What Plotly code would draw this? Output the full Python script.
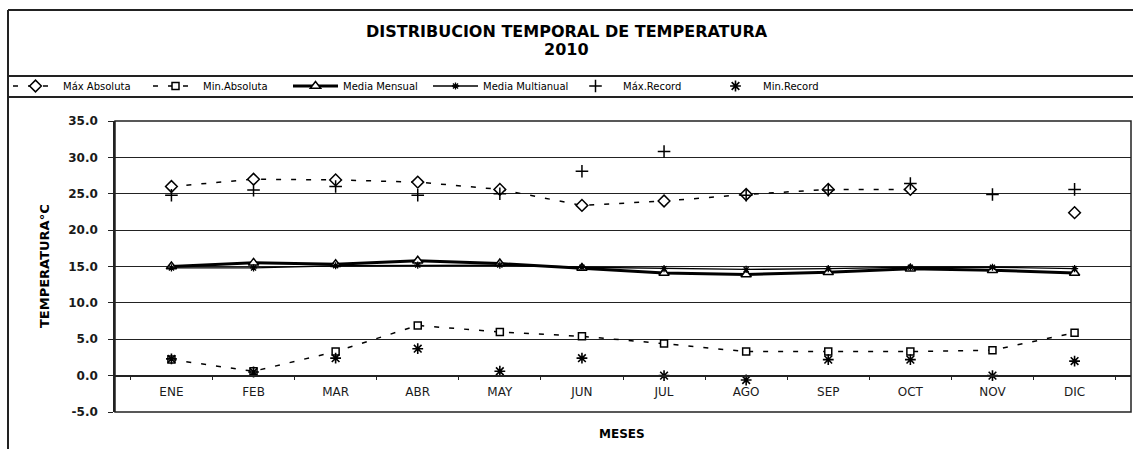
import plotly.graph_objects as go

# Months
meses = ["ENE", "FEB", "MAR", "ABR", "MAY", "JUN", "JUL", "AGO", "SEP", "OCT", "NOV", "DIC"]

# Temperature series (°C), 2010
max_absoluta = [26.0, 27.0, 26.9, 26.6, 25.6, 23.4, 24.0, 24.9, 25.6, 25.6, None, 22.4]
min_absoluta = [2.2, 0.6, 3.3, 6.9, 6.0, 5.4, 4.4, 3.3, 3.3, 3.3, 3.5, 5.9]
media_mensual = [15.0, 15.5, 15.3, 15.8, 15.4, 14.8, 14.1, 13.9, 14.2, 14.7, 14.5, 14.1]
media_multianual = [14.8, 14.8, 15.1, 15.2, 15.2, 14.9, 14.7, 14.6, 14.7, 14.9, 14.9, 14.7]
max_record = [24.8, 25.5, 26.0, 24.8, 25.0, 28.1, 30.8, 24.8, 25.5, 26.4, 24.9, 25.6]
min_record = [2.3, 0.5, 2.4, 3.7, 0.6, 2.4, 0.0, -0.6, 2.2, 2.2, 0.0, 2.0]

y_ticks = [-5, 0, 5, 10, 15, 20, 25, 30, 35]
y_ticktext = [f"{v:.1f}" for v in y_ticks]

FONT = "DejaVu Sans, Verdana, sans-serif"
W, H = 1133, 449
PL, PR, PT, PB = 115, 1131, 121, 412


def px(x):
    return (x - PL) / (PR - PL)


def py(y):
    return (PB - y) / (PB - PT)


DASH = "5px,10px"
fig = go.Figure()

fig.add_trace(go.Scatter(
    x=meses, y=max_absoluta, name="Máx Absoluta", mode="lines+markers",
    connectgaps=False,
    line=dict(color="black", width=1.5, dash=DASH),
    marker=dict(symbol="diamond", size=9, color="white", line=dict(color="black", width=1.5)),
))
fig.add_trace(go.Scatter(
    x=meses, y=min_absoluta, name="Min.Absoluta", mode="lines+markers",
    line=dict(color="black", width=1.5, dash=DASH),
    marker=dict(symbol="square", size=7, color="white", line=dict(color="black", width=1.5)),
))
fig.add_trace(go.Scatter(
    x=meses, y=media_mensual, name="Media Mensual", mode="lines+markers",
    line=dict(color="black", width=3),
    marker=dict(symbol="triangle-up", size=9, color="white", line=dict(color="black", width=1.5)),
))
fig.add_trace(go.Scatter(
    x=meses, y=media_multianual, name="Media Multianual", mode="lines+markers",
    line=dict(color="black", width=1.3),
    marker=dict(symbol="asterisk-open", size=6, color="black", line=dict(color="black", width=1.3)),
))
fig.add_trace(go.Scatter(
    x=meses, y=max_record, name="Máx.Record", mode="markers",
    marker=dict(symbol="cross-thin-open", size=9, color="black", line=dict(color="black", width=1.5)),
))
fig.add_trace(go.Scatter(
    x=meses, y=min_record, name="Min.Record", mode="markers",
    marker=dict(symbol="asterisk-open", size=9, color="black", line=dict(color="black", width=1.6)),
))

# Chart frame: outer border and the bands around the title and legend
frame = dict(type="line", xref="paper", yref="paper", line=dict(color="#222", width=2))
shapes = [
    dict(frame, x0=px(8), x1=px(8), y0=py(10), y1=py(H + 5)),
    dict(frame, x0=px(8), x1=px(W + 5), y0=py(10), y1=py(10)),
    dict(frame, x0=px(8), x1=px(W + 5), y0=py(76), y1=py(76)),
    dict(frame, x0=px(8), x1=px(W + 5), y0=py(97), y1=py(97)),
    # plot area border
    dict(type="rect", xref="paper", yref="paper", x0=0, x1=1, y0=0, y1=1,
         line=dict(color="#222", width=1.5)),
]

title_font = dict(family=FONT, size=16, color="black")
fig.update_layout(
    width=W, height=H, autosize=False,
    margin=dict(l=PL, r=W - PR, t=PT, b=H - PB, pad=0),
    paper_bgcolor="white", plot_bgcolor="white",
    font=dict(family=FONT, color="black"),
    showlegend=True,
    legend=dict(
        orientation="h", x=px(8), y=py(86), xanchor="left", yanchor="middle",
        font=dict(family=FONT, size=10, color="black"),
        bgcolor="rgba(0,0,0,0)", itemwidth=45,
        entrywidth=80, entrywidthmode="pixels",
        itemclick=False, itemdoubleclick=False,
    ),
    shapes=shapes,
    annotations=[
        dict(text="<b>DISTRIBUCION TEMPORAL DE TEMPERATURA</b>", xref="paper", yref="paper",
             x=px(W / 2), y=py(31), showarrow=False, font=title_font,
             xanchor="center", yanchor="middle"),
        dict(text="<b>2010</b>", xref="paper", yref="paper",
             x=px(W / 2), y=py(49), showarrow=False, font=title_font,
             xanchor="center", yanchor="middle"),
        dict(text="<b>MESES</b>", xref="paper", yref="paper", x=px(622), y=py(434),
             showarrow=False, font=dict(family=FONT, size=12, color="black"),
             xanchor="center", yanchor="middle"),
        dict(text="<b>TEMPERATURA°C</b>", xref="paper", yref="paper", x=px(44), y=py(266),
             showarrow=False, textangle=-90,
             font=dict(family=FONT, size=13, color="black"),
             xanchor="center", yanchor="middle"),
    ],
    hovermode=False,
)

fig.update_yaxes(
    range=[-5, 35], tickvals=y_ticks, ticktext=[f"<b>{t}</b>" for t in y_ticktext],
    showgrid=True, gridcolor="#222", gridwidth=1.2, zeroline=False,
    showline=True, linecolor="#222", linewidth=1.5,
    ticks="outside", ticklen=5, tickcolor="#222", ticklabelstandoff=8,
    tickfont=dict(family=FONT, size=12, color="#1a1a1a"),
    fixedrange=True,
)
fig.update_xaxes(
    type="category", categoryorder="array", categoryarray=meses,
    anchor="free", position=5 / 40,
    showgrid=False, zeroline=False,
    showline=True, linecolor="#222", linewidth=1.5,
    ticks="outside", tickson="boundaries", ticklen=4, tickcolor="#222",
    ticklabelstandoff=5,
    tickfont=dict(family=FONT, size=12, color="#1a1a1a"),
    fixedrange=True,
)

fig.write_html("out.html", config={"displayModeBar": False})
